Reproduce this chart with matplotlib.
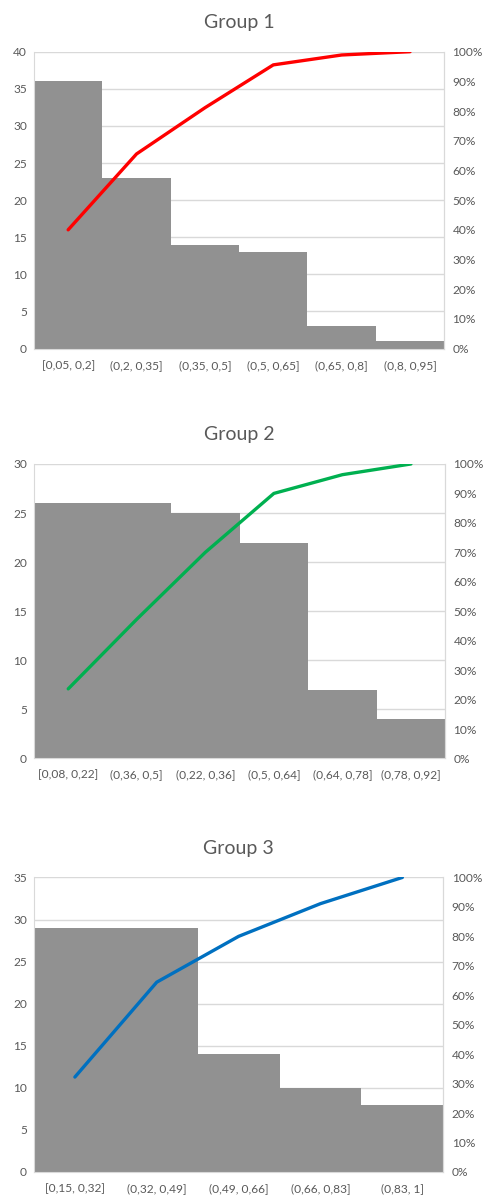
import numpy as np
import matplotlib
matplotlib.use("Agg")
import matplotlib.pyplot as plt
from matplotlib.ticker import PercentFormatter

plt.rcParams['font.family'] = ['Lato', 'DejaVu Sans']

# counts per bin for each group
labels1 = ['[0,05, 0,2]', '(0,2, 0,35]', '(0,35, 0,5]', '(0,5, 0,65]', '(0,65, 0,8]', '(0,8, 0,95]']
counts1 = [36, 23, 14, 13, 3, 1]

labels2 = ['[0,08, 0,22]', '(0,36, 0,5]', '(0,22, 0,36]', '(0,5, 0,64]', '(0,64, 0,78]', '(0,78, 0,92]']
counts2 = [26, 26, 25, 22, 7, 4]

labels3 = ['[0,15, 0,32]', '(0,32, 0,49]', '(0,49, 0,66]', '(0,66, 0,83]', '(0,83, 1]']
counts3 = [29, 29, 14, 10, 8]

titles = ['Group 1', 'Group 2', 'Group 3']
ymax = [40, 30, 35]
line_cols = ['#ff0000', '#00b050', '#0070c0']

txt = '#595959'
grid = '#d9d9d9'

fig = plt.figure(figsize=(4.85, 12.02), dpi=100)
# axes boxes in figure fractions (left, bottom, width, height)
boxes = [(0.070, 0.710, 0.846, 0.247),
         (0.070, 0.369, 0.848, 0.245),
         (0.070, 0.025, 0.844, 0.245)]

for labels, counts, title, top, col, box in zip(
        [labels1, labels2, labels3], [counts1, counts2, counts3],
        titles, ymax, line_cols, boxes):
    ax = fig.add_axes(box)
    x = np.arange(len(counts))
    ax.bar(x, counts, width=1.0, color='#919191', zorder=2)
    ax.set_xlim(-0.5, len(counts) - 0.5)
    ax.set_ylim(0, top)
    ax.set_yticks(np.arange(0, top + 1, 5))
    ax.yaxis.grid(True, color=grid, lw=1.0, zorder=0)
    ax.set_axisbelow(True)
    ax.set_xticks(x)
    ax.set_xticklabels(labels)
    ax.tick_params(axis='both', length=0, colors=txt, labelsize=8.6)
    ax.tick_params(axis='x', pad=8)
    ax.tick_params(axis='y', pad=5)
    for s in ['left', 'bottom', 'right']:
        ax.spines[s].set_color(grid)
    ax.spines['top'].set_visible(False)
    ax.set_title(title, color=txt, fontsize=14, pad=17)

    # cumulative share on the right axis
    cum = np.cumsum(counts) / np.sum(counts)
    ax2 = ax.twinx()
    ax2.plot(x, cum, color=col, lw=2.4, solid_capstyle='round', zorder=3)
    ax2.set_ylim(0, 1)
    ax2.set_yticks(np.arange(0, 1.01, 0.1))
    ax2.yaxis.set_major_formatter(PercentFormatter(1.0, decimals=0))
    ax2.tick_params(axis='y', length=0, colors=txt, labelsize=8.6, pad=6)
    for s in ['left', 'bottom', 'top']:
        ax2.spines[s].set_visible(False)
    ax2.spines['right'].set_color(grid)

fig.savefig('out.png', dpi=100)
